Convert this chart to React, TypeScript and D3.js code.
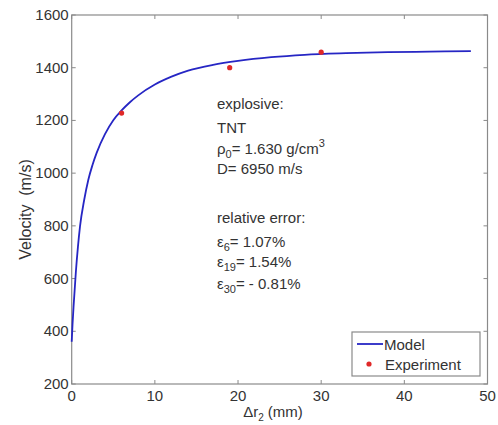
import React from "react";
import * as d3 from "d3";

// model curve (Δr2 in mm, velocity in m/s)
const modelX = [0, 0.1, 0.25, 0.5, 0.75, 1, 1.5, 2, 2.5, 3, 4, 5, 6, 7, 8, 10, 12, 14, 17, 20, 24, 28, 33, 38, 43, 48];
const modelV = [360, 427, 507, 625, 720, 798, 898, 975, 1031, 1077, 1148, 1201, 1238, 1269, 1295, 1336, 1366, 1389, 1411, 1426, 1440, 1449, 1455, 1459, 1461, 1463];

// experiment
const expX = [6, 19, 30];
const expV = [1228, 1400, 1459];

const xTicks = [0, 10, 20, 30, 40, 50];
const yTicks = [200, 400, 600, 800, 1000, 1200, 1400, 1600];

const W = 498;
const H = 425;
const margin = { top: 15, right: 10.5, bottom: 41, left: 71.7 };
const font = "'Liberation Sans', Arial, Helvetica, sans-serif";
const textColor = "#333";
const axisColor = "#8a8a8a";
const blue = "#2626c4";
const red = "#e02828";

const App = () => {
  const x = d3.scaleLinear().domain([0, 50]).range([margin.left, W - margin.right]);
  const y = d3.scaleLinear().domain([200, 1600]).range([H - margin.bottom, margin.top]);

  const modelData = modelX.map((d, i) => ({ x: d, v: modelV[i] }));
  const line = d3.line<{ x: number; v: number }>()
    .x(d => x(d.x))
    .y(d => y(d.v))
    .curve(d3.curveMonotoneX);

  const x0 = x(0), x1 = x(50), y0 = y(200), y1 = y(1600);
  const tk = 4;

  return (
    <svg width={W} height={H} style={{ position: "absolute", left: 0, top: 0, background: "#fff" }}
      fontFamily={font}>
      <rect x={0} y={0} width={W} height={H} fill="#fff" />

      {/* box */}
      <rect x={x0} y={y1} width={x1 - x0} height={y0 - y1} fill="none" stroke={axisColor} strokeWidth={1.2} />

      {/* ticks */}
      {xTicks.map(t => (
        <g key={"xt" + t}>
          <line x1={x(t)} x2={x(t)} y1={y0} y2={y0 - tk} stroke={axisColor} />
          <line x1={x(t)} x2={x(t)} y1={y1} y2={y1 + tk} stroke={axisColor} />
          <text x={x(t)} y={y0 + 17} textAnchor="middle" fontSize={15} fill={textColor}>{t}</text>
        </g>
      ))}
      {yTicks.map(t => (
        <g key={"yt" + t}>
          <line x1={x0} x2={x0 + tk} y1={y(t)} y2={y(t)} stroke={axisColor} />
          <line x1={x1} x2={x1 - tk} y1={y(t)} y2={y(t)} stroke={axisColor} />
          <text x={x0 - 3} y={y(t) + 5} textAnchor="end" fontSize={15} fill={textColor}>{t}</text>
        </g>
      ))}

      {/* axis labels */}
      <text x={273} y={417} textAnchor="middle" fontSize={15} fill={textColor}>
        Δr<tspan fontSize={10} dy={4}>2</tspan><tspan dy={-4}> (mm)</tspan>
      </text>
      <text transform={`translate(31,209.5) rotate(-90)`} textAnchor="middle" fontSize={16} fill={textColor}
        style={{ whiteSpace: "pre" }}>
        {"Velocity  (m/s)"}
      </text>

      {/* model */}
      <path d={line(modelData) || ""} fill="none" stroke={blue} strokeWidth={1.8} />

      {/* experiment */}
      {expX.map((d, i) => (
        <circle key={"e" + i} cx={x(d)} cy={y(expV[i])} r={2.6} fill={red} />
      ))}

      {/* annotation */}
      <g fontSize={15} fill={textColor}>
        <text x={217} y={109}>explosive:</text>
        <text x={217} y={133}>TNT</text>
        <text x={217} y={154}>ρ<tspan fontSize={11} dy={4}>0</tspan><tspan dy={-4}>= 1.630 g/cm</tspan><tspan fontSize={11} dy={-7}>3</tspan></text>
        <text x={217} y={174}>D= 6950 m/s</text>
        <text x={217} y={223}>relative error:</text>
        <text x={217} y={247}>ε<tspan fontSize={11} dy={4}>6</tspan><tspan dy={-4}>= 1.07%</tspan></text>
        <text x={217} y={267}>ε<tspan fontSize={11} dy={4}>19</tspan><tspan dy={-4}>= 1.54%</tspan></text>
        <text x={217} y={289}>ε<tspan fontSize={11} dy={4}>30</tspan><tspan dy={-4}>= - 0.81%</tspan></text>
      </g>

      {/* legend */}
      <rect x={352} y={332} width={128} height={44} fill="#fff" stroke={axisColor} strokeWidth={1.2} />
      <line x1={357} x2={383} y1={344} y2={344} stroke={blue} strokeWidth={1.8} />
      <text x={384} y={350} fontSize={15} fill={textColor}>Model</text>
      <circle cx={369} cy={364} r={2.6} fill={red} />
      <text x={385} y={370} fontSize={15} fill={textColor}>Experiment</text>
    </svg>
  );
};

export default App;
